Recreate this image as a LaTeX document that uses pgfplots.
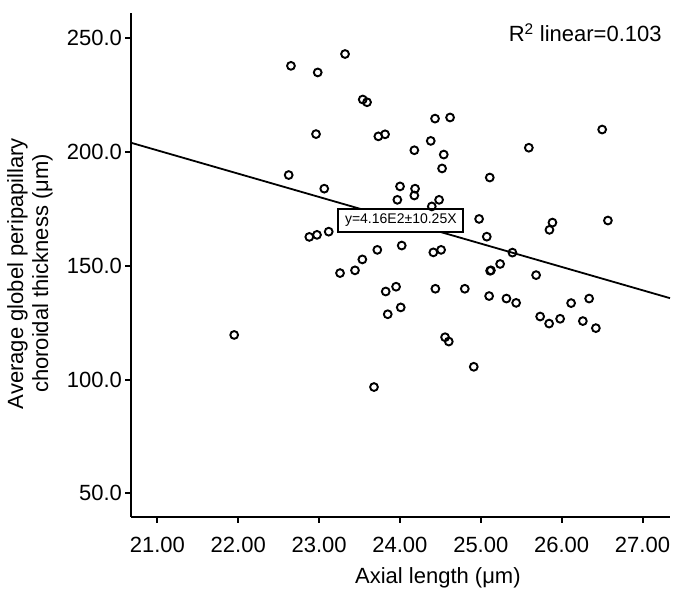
\documentclass[border=0pt]{standalone}
\usepackage{fontspec}
\setmainfont{Liberation Sans}
\usepackage{pgfplots}
\pgfplotsset{compat=1.18}
\begin{document}
\begin{tikzpicture}
\path[use as bounding box] (-131.5pt,-77.3pt) rectangle (545.5pt,516.7pt);
\begin{axis}[
  at={(0,0)}, anchor=south west,
  scale only axis, width=538.5pt, height=503.4pt,
  xmin=20.68, xmax=27.34, ymin=39.7, ymax=261,
  axis x line*=bottom, axis y line*=left,
  axis line style={line width=2pt, -},
  xtick={21,22,23,24,25,26,27}, ytick={50,100,150,200,250},
  tick align=outside, major tick length=6pt,
  tick style={line width=2pt, black},
  /pgf/number format/assume math mode=true,
  ticklabel style={font=\fontsize{22}{26}\selectfont},
  xticklabel style={/pgf/number format/.cd, fixed, fixed zerofill, precision=2, /tikz/yshift=-11pt},
  yticklabel style={/pgf/number format/.cd, fixed, fixed zerofill, precision=1},
  xlabel={Axial length (μm)},
  xlabel style={font=\fontsize{22}{26}\selectfont, at={(axis description cs:0.569,-0.122)}, anchor=center},
  ylabel={Average globel peripapillary\\choroidal thickness (μm)},
  ylabel style={font=\fontsize{22}{25}\selectfont, align=center, at={(axis description cs:-0.1885,0.483)}, anchor=center},
  clip=false,
]
\addplot[only marks, mark=o, mark size=3.9pt, mark options={line width=1.9pt, black}] coordinates {
(22.652,237.9) (22.983,235.0) (23.321,243.1) (23.540,223.1) (23.593,221.9)
(22.962,207.9) (23.733,206.9) (23.816,207.8) (22.624,189.9) (23.064,183.9)
(24.001,184.9) (23.968,179.0) (22.879,162.7) (22.974,163.6) (23.119,165.0)
(24.022,158.9) (23.720,157.0) (23.535,152.8) (23.444,148.0) (23.259,146.8)
(24.434,214.7) (24.620,215.2) (24.381,204.9) (24.178,200.8) (24.542,198.9)
(24.521,192.8) (26.501,209.9) (25.594,201.9) (25.111,188.8) (24.187,183.9)
(24.178,180.9) (24.484,179.0) (24.394,176.1) (24.979,170.6) (25.886,169.0)
(25.849,165.8) (26.572,169.9) (25.074,162.8) (24.413,155.9) (24.509,157.0)
(25.391,155.8) (25.115,147.8) (25.125,148.0) (25.239,150.8) (25.684,145.9)
(21.950,119.6) (23.679,96.7) (23.824,138.7) (23.952,140.8) (23.849,128.7)
(24.010,131.7) (24.438,139.9) (24.802,139.9) (24.558,118.6) (24.604,116.7)
(24.913,105.6) (25.103,136.7) (25.317,135.6) (25.437,133.7) (25.734,127.7)
(25.845,124.6) (25.981,126.7) (26.117,133.6) (26.262,125.7) (26.340,135.6)
(26.423,122.6)
};
\addplot[black, line width=1.8pt] coordinates {(20.68,204.03) (27.34,135.77)};
\node[draw=black, fill=white, line width=1.8pt, minimum width=125pt, minimum height=23.4pt, inner sep=2pt, font=\fontsize{14}{16}\selectfont] at (axis cs:24.011,169.9) {y=4.16E2±10.25X};
\node[anchor=east, font=\fontsize{22}{26}\selectfont] at (axis description cs:0.991,0.961) {R\textsuperscript{2} linear=0.103};
\end{axis}
\end{tikzpicture}
\end{document}
